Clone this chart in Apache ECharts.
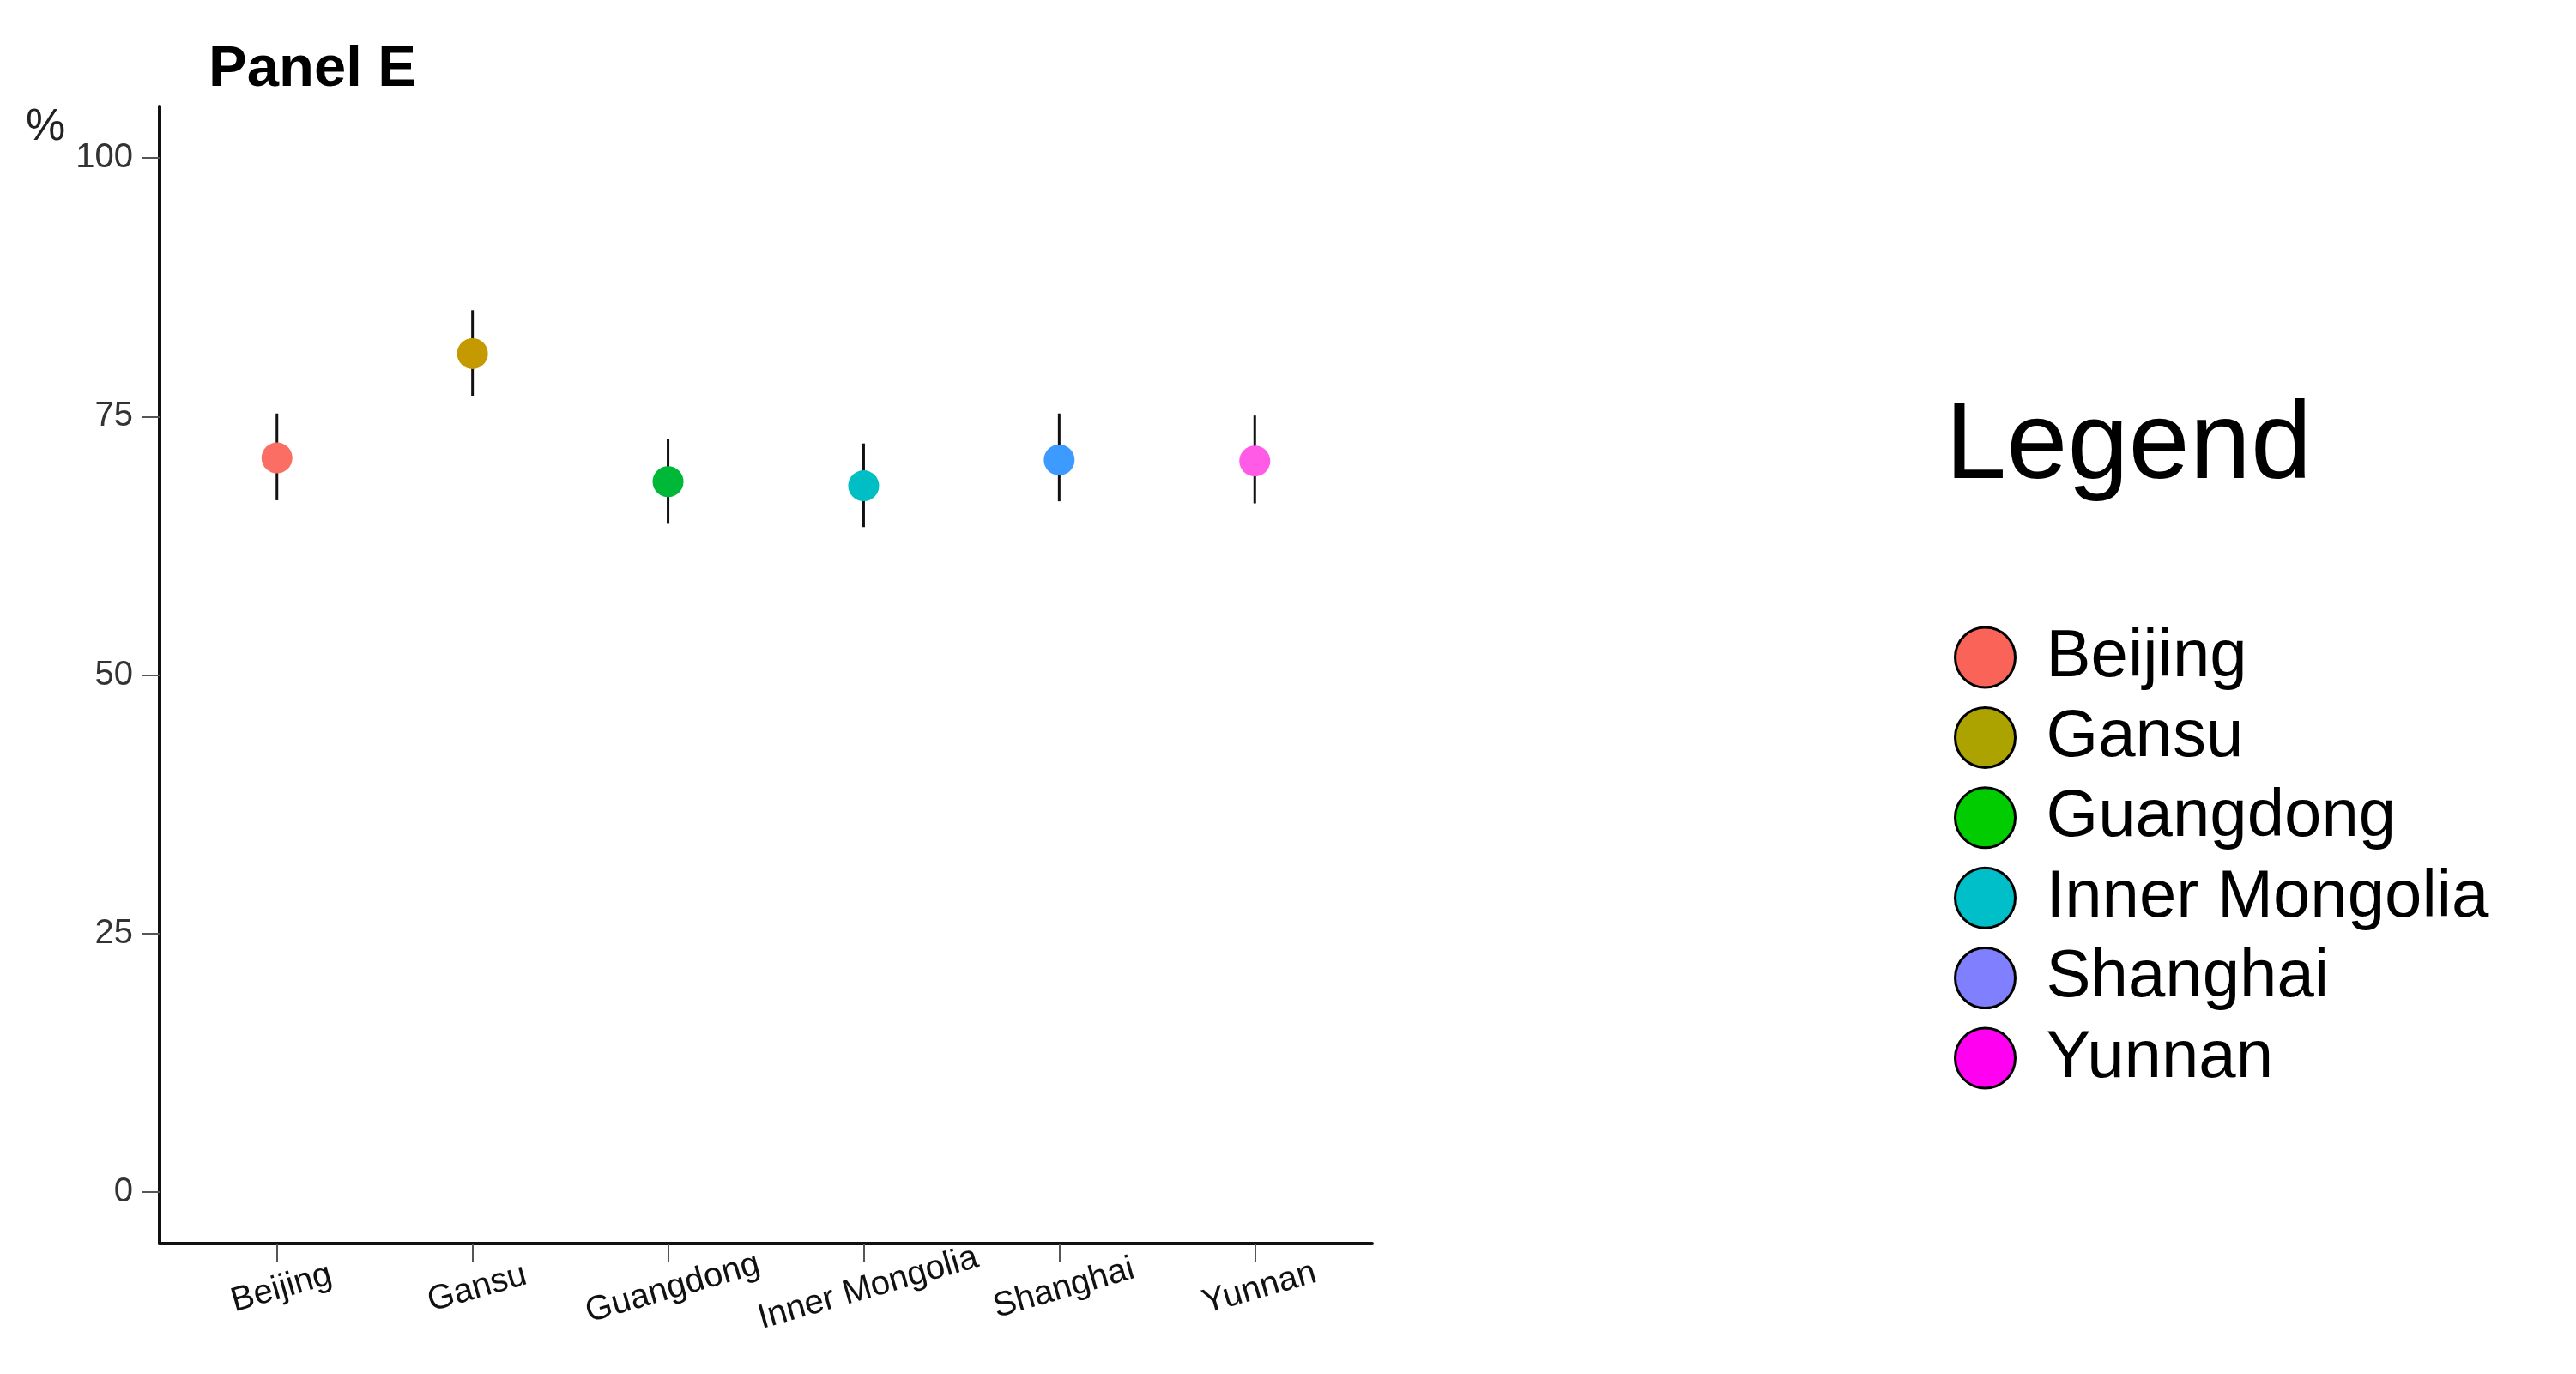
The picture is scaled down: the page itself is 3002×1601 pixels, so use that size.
<!DOCTYPE html>
<html>
<head>
<meta charset="utf-8">
<script src="https://cdn.jsdelivr.net/npm/echarts@6/dist/echarts.min.js"></script>
<style>html,body{margin:0;padding:0;background:#fff}#c{width:3002px;height:1601px}</style>
</head>
<body>
<div id="c"></div>
<script>
const regions = ['Beijing', 'Gansu', 'Guangdong', 'Inner Mongolia', 'Shanghai', 'Yunnan'];
const means = [71.0, 81.1, 68.7, 68.3, 70.8, 70.7];
const lower = [66.9, 77.0, 64.7, 64.3, 66.8, 66.6];
const upper = [75.3, 85.3, 72.8, 72.4, 75.3, 75.1];
const yTicks = [0, 25, 50, 75, 100];
const xPositions = [1, 2, 3, 4, 5, 6];
const plotColors = ['#FA6E64', '#C49A00', '#00B838', '#00BFC4', '#3D9BFF', '#FF5BE6'];
const legendColors = ['#FA6458', '#ADA300', '#00CC00', '#00BFC8', '#8080FF', '#FF00F0'];

const FONT = 'Liberation Sans, Arial, sans-serif';
const chart = echarts.init(document.getElementById('c'), null, {renderer: 'canvas'});

const errData = regions.map((r, i) => [xPositions[i], lower[i], upper[i]]);

const series = [{
  type: 'custom',
  name: 'errorbars',
  z: 1,
  data: errData,
  encode: {x: 0, y: [1, 2]},
  renderItem: function (params, api) {
    const x = api.value(0);
    const p1 = api.coord([x, api.value(1)]);
    const p2 = api.coord([x, api.value(2)]);
    return {
      type: 'line',
      shape: {x1: p1[0], y1: p1[1], x2: p2[0], y2: p2[1]},
      style: {stroke: '#111', lineWidth: 3}
    };
  },
  silent: true
}];
regions.forEach((r, i) => {
  series.push({
    type: 'scatter',
    name: r,
    z: 3,
    symbol: 'circle',
    symbolSize: 36,
    data: [[xPositions[i], means[i]]],
    itemStyle: {color: plotColors[i], opacity: 1}
  });
});

chart.setOption({
  animation: false,
  backgroundColor: '#fff',
  title: [
    {text: 'Panel E', left: 238, top: 43, textStyle: {fontFamily: FONT, fontSize: 67, fontWeight: 'bold', color: '#000'}},
    {text: '%', left: 25, top: 118, textStyle: {fontFamily: FONT, fontSize: 52, fontWeight: 'normal', color: '#222'}},
    {text: 'Legend', left: 2262, top: 453, textStyle: {fontFamily: FONT, fontSize: 128, fontWeight: 'normal', color: '#000'}}
  ],
  legend: {
    orient: 'vertical',
    left: 2277,
    top: 727,
    padding: 0,
    itemWidth: 72,
    itemHeight: 70,
    itemGap: 15.4,
    textStyle: {fontFamily: FONT, fontSize: 78, lineHeight: 70, color: '#000', padding: [0, 0, 0, 30]},
    selectedMode: false,
    data: regions.map((r, i) => ({
      name: r,
      icon: 'circle',
      itemStyle: {color: legendColors[i], borderColor: '#000', borderWidth: 3, opacity: 1}
    }))
  },
  grid: {left: 186, right: 1403, top: 124, bottom: 152, containLabel: false},
  xAxis: {
    type: 'value',
    min: 0.4,
    max: 6.6,
    splitLine: {show: false},
    axisLine: {show: true, onZero: false, lineStyle: {color: '#111', width: 4}},
    axisTick: {show: true, customValues: xPositions, length: 21, lineStyle: {color: '#555', width: 2}},
    axisLabel: {
      show: true,
      customValues: xPositions,
      formatter: v => regions[Math.round(v) - 1] || '',
      rotate: 16,
      align: 'center',
      verticalAlign: 'top',
      margin: 33,
      fontFamily: FONT,
      fontSize: 40,
      color: '#111'
    }
  },
  yAxis: {
    type: 'value',
    min: -5,
    max: 105,
    splitLine: {show: false},
    axisLine: {show: true, onZero: false, lineStyle: {color: '#111', width: 4}},
    axisTick: {show: true, customValues: yTicks, length: 21, lineStyle: {color: '#555', width: 2}},
    axisLabel: {show: true, customValues: yTicks, margin: 31, fontFamily: FONT, fontSize: 40, color: '#333'}
  },
  series: series
});
</script>
</body>
</html>
